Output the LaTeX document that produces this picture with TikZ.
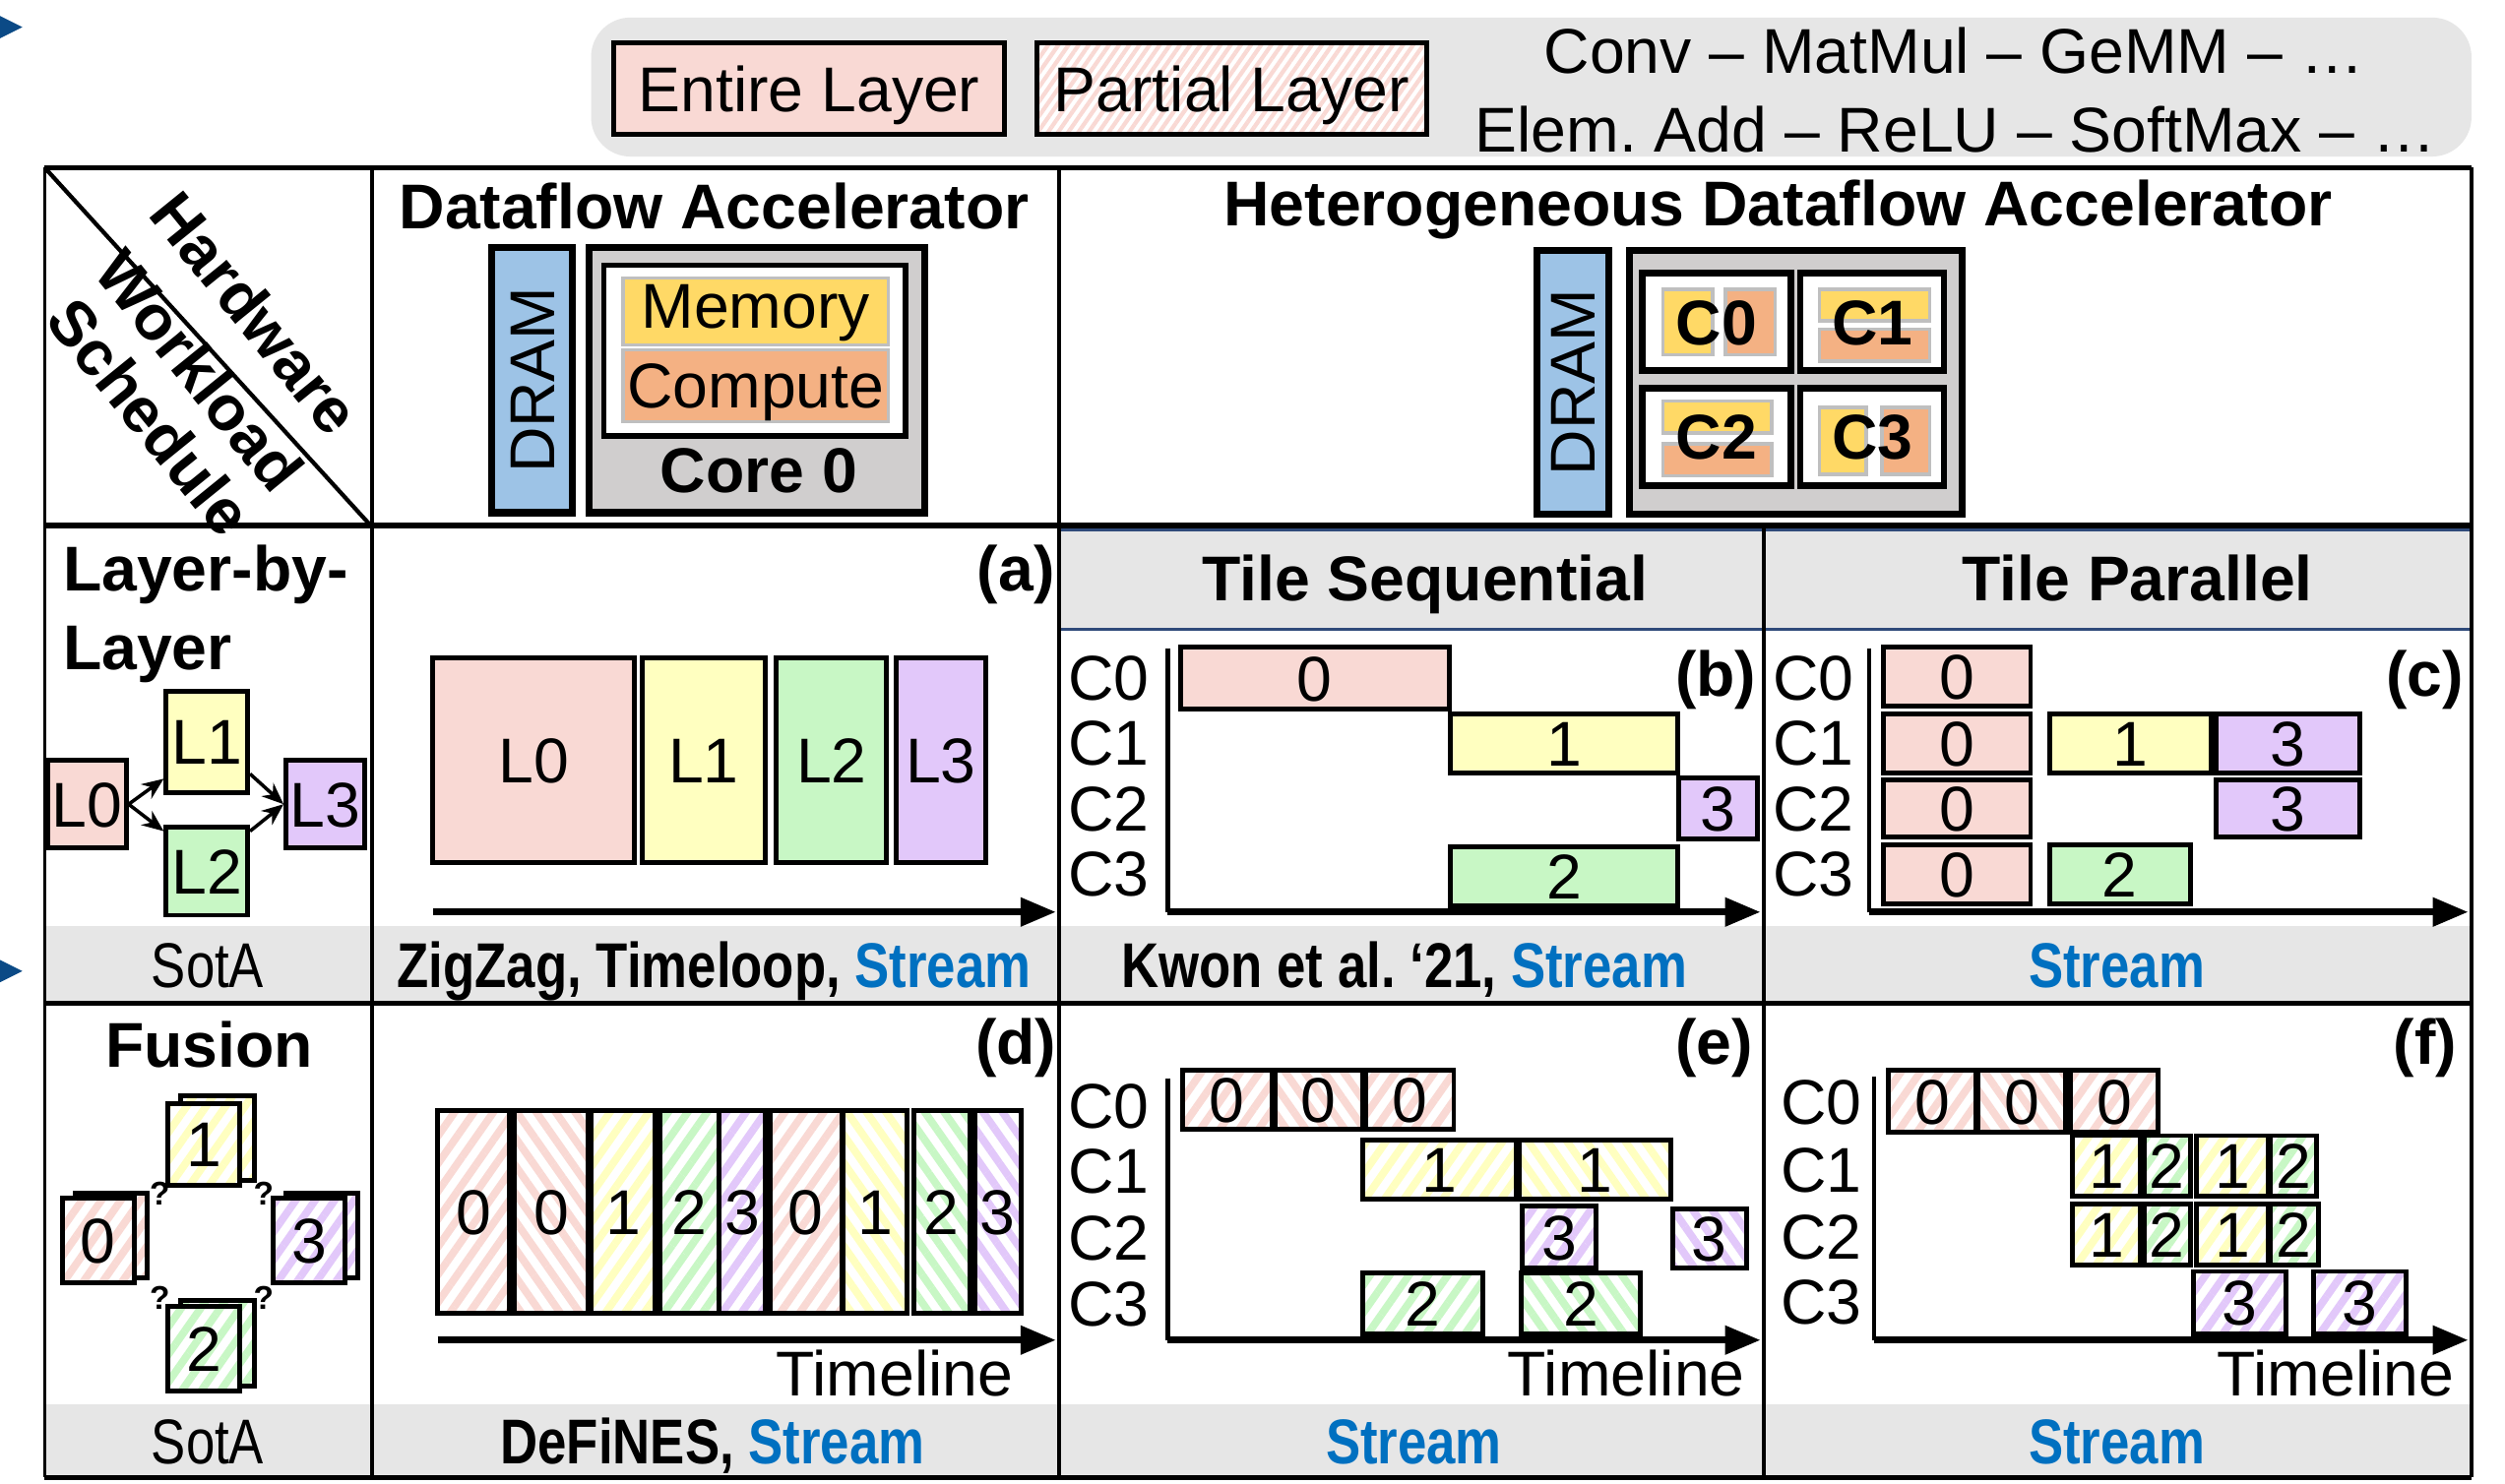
\documentclass[tikz,border=0pt]{standalone}
\usepackage{fontspec}
\setmainfont{Liberation Sans}
\newfontfamily\narrowsf[FakeStretch=0.82]{Liberation Sans}
\usepackage{tikz}
\usetikzlibrary{arrows.meta,patterns.meta,fit,positioning}

\definecolor{lay0}{HTML}{F9D9D4}
\definecolor{lay1}{HTML}{FFFFC0}
\definecolor{lay2}{HTML}{C8F7C5}
\definecolor{lay3}{HTML}{E2C8FA}
\definecolor{bandgray}{HTML}{E6E6E6}
\definecolor{dramblue}{HTML}{9DC3E6}
\definecolor{coregray}{HTML}{D0CECE}
\definecolor{memyellow}{HTML}{FFD966}
\definecolor{comporange}{HTML}{F4B183}
\definecolor{streamblue}{HTML}{0070C0}
\definecolor{bandline}{HTML}{2F4A7A}
\definecolor{markblue}{HTML}{0B4A86}

\newcommand\stream{\textcolor{streamblue}{Stream}}

\tikzset{
  every node/.style={inner sep=0pt, text height=13.1pt, text depth=0pt},
  lab/.style={label={center:#1}},
  rowline/.style={line width=1.5pt},
  colline/.style={line width=1pt},
  entire/.style={draw, line width=1.4pt, fill=#1},
  partial/.style={draw, line width=1.4pt, preaction={fill=white},
    pattern={Lines[angle=55,distance=4.6pt,line width=2.2pt]}, pattern color=#1},
  partialr/.style={partial=#1,
    pattern={Lines[angle=125,distance=4.6pt,line width=2.2pt]}},
  hwbox/.style={draw, line width=2pt, fill=#1},
  corebox/.style={draw, line width=1.6pt, fill=white},
  mem/.style={draw=black!25, line width=1pt, fill=#1},
  timeaxis/.style={line width=2pt, -{Triangle[length=3.6mm,width=2.8mm]}},
  yaxis/.style={line width=1.2pt},
  dep/.style={line width=1pt, -{Stealth[length=2.2mm,width=1.8mm]}},
  foot/.style={font=\narrowsf\bfseries},
  panel/.style={font=\bfseries},
  ask/.style={font=\fontsize{9.5pt}{10pt}\selectfont\bfseries, text height=7pt},
}

\begin{document}
\fontsize{18.3pt}{22pt}\selectfont\frenchspacing
\begin{tikzpicture}[x=0.1623mm, y=-0.1623mm]
\useasboundingbox (0,0) rectangle (1568,929);
\fill[white] (0,0) rectangle (1568,929);

% slide markers
\fill[markblue] (0,10) -- (14,17) -- (0,24) -- cycle;
\fill[markblue] (0,601) -- (14,608) -- (0,615) -- cycle;

% legend
\fill[bandgray, rounded corners=4mm] (370,11) rectangle (1547,98);
\node (legwhole) [entire=lay0, fit={(384,27)(629,84)}, lab={Entire Layer}] {};
\node (legpart) [partial=lay0, pattern={Lines[angle=55,distance=2.4pt,line width=1.2pt]},
  fit={(649,27)(893,84)}, lab={Partial Layer}] {};
\node (ops) at (1223,32) {Conv – MatMul – GeMM – …};
\node (eltw) at (1224,81) {Elem. Add – ReLU – SoftMax – …};

% table
\fill[bandgray] (663,332) rectangle (1547,394);
\fill[bandgray] (28,580) rectangle (1547,628);
\fill[bandgray] (28,879) rectangle (1547,925);
\draw[bandline, line width=0.8pt] (663,332) -- (1547,332) (663,394) -- (1547,394);
\draw[rowline] (28,105) -- (1547,105) (28,329) -- (1547,329)
  (28,628) -- (1547,628) (28,925) -- (1547,925);
\draw[colline] (28,105) -- (28,925) (233,105) -- (233,925) (663,105) -- (663,925)
  (1104,329) -- (1104,925) (1547,105) -- (1547,925);
\draw[line width=1.2pt] (28,105) -- (232,329);

\node (hw) [panel, rotate=-51] at (160,196) {Hardware};
\node (wl) [panel, rotate=-51] at (125,232) {Workload};
\node (sc) [panel, rotate=-51] at (94,261) {Schedule};

% single core accelerator
\node (dftitle) [panel] at (447,129) {Dataflow Accelerator};
\node (dram) [hwbox=dramblue, fit={(308,155)(358,321)}] {};
\node (dramtxt) [rotate=90] at (dram) {DRAM};
\node (core) [hwbox=coregray, fit={(369,155)(579,321)}] {};
\node (corein) [corebox, fit={(378,166)(567,273)}] {};
\node (mem) [mem=memyellow, fit={(390,174)(556,216)}] {};
\node (memtxt) at (473,191) {Memory};
\node (comp) [mem=comporange, fit={(390,219)(556,264)}, lab=Compute] {};
\node (corename) [panel] at (475,294) {Core 0};

% multi core accelerator
\node (hdtitle) [panel] at (1113,127) {Heterogeneous Dataflow Accelerator};
\node (dram2) [hwbox=dramblue, fit={(962,157)(1007,322)}] {};
\node (dram2txt) [rotate=90] at (dram2) {DRAM};
\node (cores) [hwbox=coregray, fit={(1020,157)(1228,322)}] {};
\node (hc0) [corebox, line width=1.8pt, fit={(1028,171)(1121,232)}] {};
\node (hc1) [corebox, line width=1.8pt, fit={(1127,171)(1217,232)}] {};
\node (hc2) [corebox, line width=1.8pt, fit={(1028,243)(1121,304)}] {};
\node (hc3) [corebox, line width=1.8pt, fit={(1127,243)(1217,304)}] {};
\draw[mem=memyellow] (1041,181) rectangle (1072,222);
\draw[mem=comporange] (1080,181) rectangle (1111,222);
\draw[mem=memyellow] (1139,181) rectangle (1208,201);
\draw[mem=comporange] (1139,206) rectangle (1208,226);
\draw[mem=memyellow] (1041,251) rectangle (1109,271);
\draw[mem=comporange] (1041,278) rectangle (1109,298);
\draw[mem=memyellow] (1139,255) rectangle (1168,297);
\draw[mem=comporange] (1178,255) rectangle (1208,297);
\foreach \i in {0,...,3}
  \node (hl\i) [panel] at (hc\i) {C\i};

% layer-by-layer row
\node (lbl1) [panel, anchor=west] at (39,356) {Layer-by-};
\node (lbl2) [panel, anchor=west] at (39,405) {Layer};
\node (L0) [entire=lay0, fit={(30,476)(79,531)}, lab=L0] {};
\node (L1) [entire=lay1, fit={(104,433)(155,496)}, lab=L1] {};
\node (L2) [entire=lay2, fit={(104,518)(155,573)}, lab=L2] {};
\node (L3) [entire=lay3, fit={(179,476)(228,531)}, lab=L3] {};
\draw[dep] (L0.east) -- ([yshift=4.6pt]L1.south west);
\draw[dep] (L0.east) -- ([yshift=-1.8pt]L2.north west);
\draw[dep] ([yshift=6pt]L1.south east) -- (L3.west);
\draw[dep] ([yshift=-1.8pt]L2.north east) -- (L3.west);

\node (pa) [panel] at (636,356) {(a)};
\node (a0) [entire=lay0, fit={(271,412)(397,540)}, lab=L0] {};
\node (a1) [entire=lay1, fit={(402,412)(479,540)}, lab=L1] {};
\node (a2) [entire=lay2, fit={(486,412)(555,540)}, lab=L2] {};
\node (a3) [entire=lay3, fit={(561,412)(617,540)}, lab=L3] {};
\coordinate (ta0) at (271,571);
\coordinate (ta1) at (661,571);
\draw[timeaxis] (ta0) -- (ta1);

\node (ts) [panel] at (892,362) {Tile Sequential};
\node (tp) [panel] at (1338,362) {Tile Parallel};

\node (pb) [panel] at (1074,422) {(b)};
\foreach \c/\y in {0/424,1/465,2/506,3/547}
  \node (bc\c) at (694,\y) {C\c};
\coordinate (bo) at (731,571);
\coordinate (bt) at (731,406);
\coordinate (be) at (1102,571);
\draw[yaxis] (bt) -- (bo);
\draw[timeaxis] (bo) -- (be);
\node (b0) [entire=lay0, fit={(739,405)(907,444)}, lab=0] {};
\node (b1) [entire=lay1, fit={(908,447)(1050,484)}, lab=1] {};
\node (b3) [entire=lay3, fit={(1051,487)(1100,525)}, lab=3] {};
\node (b2) [entire=lay2, fit={(908,530)(1050,567)}, lab=2] {};

\node (pc) [panel] at (1518,422) {(c)};
\foreach \c/\y in {0/424,1/465,2/506,3/547}
  \node (cc\c) at (1135,\y) {C\c};
\coordinate (co) at (1170,571);
\coordinate (ct) at (1170,406);
\coordinate (ce) at (1545,571);
\draw[yaxis] (ct) -- (co);
\draw[timeaxis] (co) -- (ce);
\node (c00) [entire=lay0, fit={(1179,405)(1271,442)}, lab=0] {};
\node (c10) [entire=lay0, fit={(1179,447)(1271,484)}, lab=0] {};
\node (c11) [entire=lay1, fit={(1283,447)(1384,484)}, lab=1] {};
\node (c13) [entire=lay3, fit={(1387,447)(1477,484)}, lab=3] {};
\node (c20) [entire=lay0, fit={(1179,488)(1271,524)}, lab=0] {};
\node (c23) [entire=lay3, fit={(1387,488)(1477,524)}, lab=3] {};
\node (c30) [entire=lay0, fit={(1179,529)(1271,566)}, lab=0] {};
\node (c32) [entire=lay2, fit={(1283,529)(1371,566)}, lab=2] {};

\node (f1a) [foot, font=\narrowsf] at (130,604) {SotA};
\node (f1b) [foot] at (447,604) {ZigZag, Timeloop, \stream};
\node (f1c) [foot] at (879,604) {Kwon et al. ‘21, \stream};
\node (f1d) [foot] at (1325,604) {\stream};

% fusion row
\node (fus) [panel] at (131,654) {Fusion};
\node (k1b) [partial=lay1, fit={(113,686)(159,739)}] {};
\node (k1) [partial=lay1, fit={(105,691)(150,742)}, lab=1] {};
\node (k0b) [partial=lay0, fit={(47,747)(92,800)}] {};
\node (k0) [partial=lay0, fit={(39,750)(84,803)}, lab=0] {};
\node (k3b) [partial=lay3, fit={(179,747)(224,800)}] {};
\node (k3) [partial=lay3, fit={(171,750)(216,803)}, lab=3] {};
\node (k2b) [partial=lay2, fit={(113,814)(159,868)}] {};
\node (k2) [partial=lay2, fit={(105,818)(150,871)}, lab=2] {};
\node (q1) [ask] at (100,747) {?};
\node (q2) [ask] at (165,747) {?};
\node (q3) [ask] at (100,812) {?};
\node (q4) [ask] at (165,812) {?};

\node (pd) [panel] at (636,652) {(d)};
\node (d1) [partial=lay0, fit={(274,695)(319,822)}, lab=0] {};
\node (d2) [partialr=lay0, fit={(322,695)(368,822)}, lab=0] {};
\node (d3) [partial=lay1, fit={(370,695)(410,822)}, lab=1] {};
\node (d4) [partial=lay2, fit={(413,695)(450,822)}, lab=2] {};
\node (d5) [partial=lay3, fit={(450,695)(479,822)}, lab=3] {};
\node (d6) [partial=lay0, fit={(482,695)(527,822)}, lab=0] {};
\node (d7) [partialr=lay1, fit={(528,695)(568,822)}, lab=1] {};
\node (d8) [partialr=lay2, fit={(572,695)(607,822)}, lab=2] {};
\node (d9) [partialr=lay3, fit={(610,695)(639,822)}, lab=3] {};
\coordinate (td0) at (274,839);
\coordinate (td1) at (661,839);
\draw[timeaxis] (td0) -- (td1);
\node (tld) at (560,860) {Timeline};

\node (pe) [panel] at (1073,652) {(e)};
\foreach \c/\y in {0/692,1/733,2/775,3/816}
  \node (ec\c) at (694,\y) {C\c};
\coordinate (eo) at (731,839);
\coordinate (et) at (731,675);
\coordinate (ee) at (1102,839);
\draw[yaxis] (et) -- (eo);
\draw[timeaxis] (eo) -- (ee);
\node (e01) [partial=lay0, fit={(740,670)(796,707)}, lab=0] {};
\node (e02) [partialr=lay0, fit={(798,670)(853,707)}, lab=0] {};
\node (e03) [partial=lay0, fit={(855,670)(910,707)}, lab=0] {};
\node (e11) [partial=lay1, fit={(853,714)(949,751)}, lab=1] {};
\node (e12) [partialr=lay1, fit={(951,714)(1046,751)}, lab=1] {};
\node (e21) [partial=lay3, fit={(953,755)(999,794)}, lab=3] {};
\node (e22) [partialr=lay3, fit={(1047,757)(1093,794)}, lab=3] {};
\node (e31) [partial=lay2, fit={(853,797)(928,835)}, lab=2] {};
\node (e32) [partialr=lay2, fit={(952,797)(1027,835)}, lab=2] {};
\node (tle) at (1018,860) {Timeline};

\node (pf) [panel] at (1518,652) {(f)};
\foreach \c/\y in {0/690,1/732,2/774,3/815}
  \node (fc\c) at (1140,\y) {C\c};
\coordinate (fo) at (1173,839);
\coordinate (ft) at (1173,674);
\coordinate (fe) at (1545,839);
\draw[yaxis] (ft) -- (fo);
\draw[timeaxis] (fo) -- (fe);
\node (f01) [partial=lay0, fit={(1182,670)(1237,709)}, lab=0] {};
\node (f02) [partialr=lay0, fit={(1238,670)(1293,709)}, lab=0] {};
\node (f03) [partial=lay0, fit={(1296,670)(1351,709)}, lab=0] {};
\node (f11) [partial=lay1, fit={(1297,711)(1340,749)}, lab=1] {};
\node (f12) [partial=lay2, fit={(1342,711)(1371,749)}, lab=2] {};
\node (f13) [partial=lay1, fit={(1375,711)(1420,749)}, lab=1] {};
\node (f14) [partial=lay2, fit={(1421,711)(1450,749)}, lab=2] {};
\node (f21) [partial=lay1, fit={(1297,754)(1340,792)}, lab=1] {};
\node (f22) [partial=lay2, fit={(1342,754)(1371,792)}, lab=2] {};
\node (f23) [partial=lay1, fit={(1375,754)(1420,792)}, lab=1] {};
\node (f24) [partial=lay2, fit={(1421,754)(1451,792)}, lab=2] {};
\node (f31) [partial=lay3, fit={(1373,796)(1431,835)}, lab=3] {};
\node (f32) [partial=lay3, fit={(1448,796)(1506,835)}, lab=3] {};
\node (tlf) at (1462,860) {Timeline};

\node (f2a) [foot, font=\narrowsf] at (130,902) {SotA};
\node (f2b) [foot] at (446,902) {DeFiNES, \stream};
\node (f2c) [foot] at (885,902) {\stream};
\node (f2d) [foot] at (1325,902) {\stream};
\end{tikzpicture}
\end{document}
